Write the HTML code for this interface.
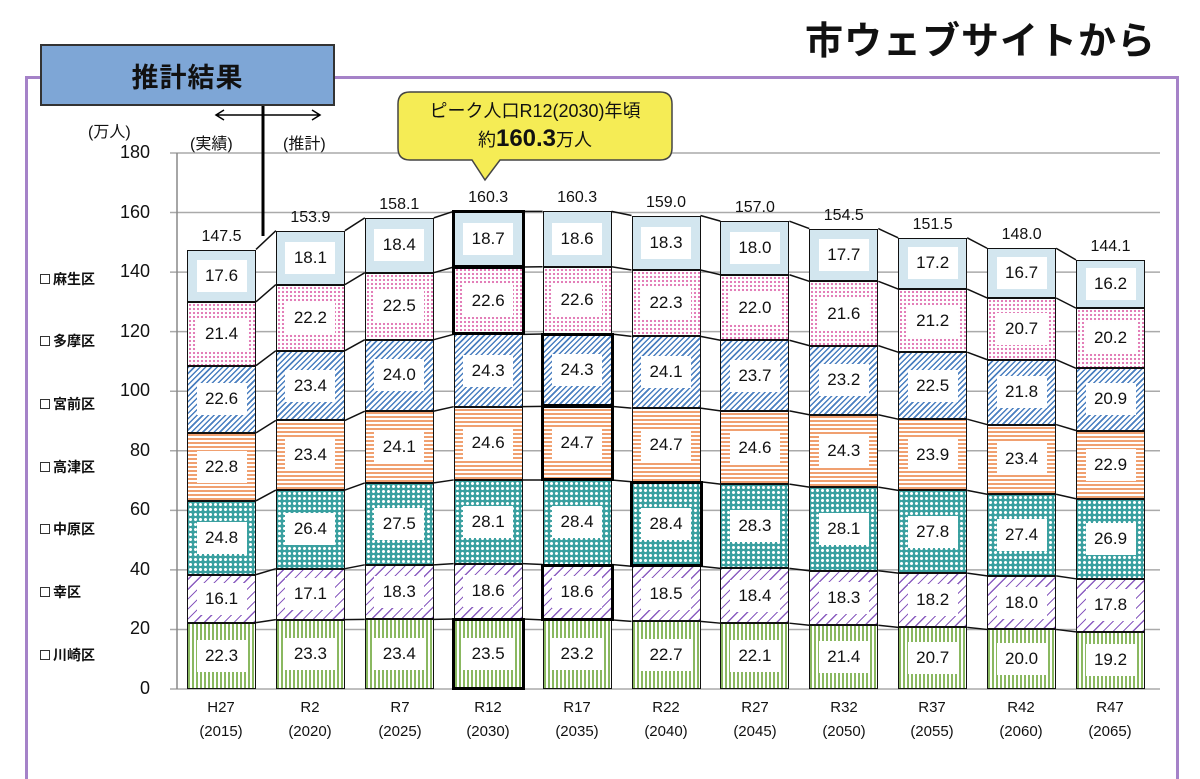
<!DOCTYPE html>
<html><head><meta charset="utf-8"><style>
body{margin:0;width:1200px;height:762px;background:#fff;position:relative;overflow:hidden;font-family:"Liberation Sans","Noto Sans CJK JP",sans-serif;color:#111}
.abs{position:absolute}
.bar{position:absolute;bottom:73px;width:69px;display:flex;flex-direction:column-reverse;z-index:2}
.bar div{box-sizing:border-box;border:1.5px solid #111;border-top-width:1px;border-bottom-width:1px;position:relative;display:flex;align-items:center;justify-content:center}
.bar span{background:#fff;width:50px;height:32px;display:flex;align-items:center;justify-content:center;font-size:17px}
.bar .t{position:absolute;margin:0;top:-24px;left:0;right:0;text-align:center;font-size:16px;border:none;display:block;line-height:20px}
.a{background:#d3e6ef}
.b{background:#fff radial-gradient(#e070b0 0.9px,transparent 1.3px) 0 0/4px 4px}
.c{background:repeating-linear-gradient(-45deg,#4a7fc0 0 1.5px,#fff 1.5px 4px)}
.d{background:repeating-linear-gradient(0deg,#f0a070 0 2px,#fff 2px 4px)}
.e{background:#3aa0a0 radial-gradient(#fff 1.3px,transparent 1.8px) 0 0/5px 5px}
.f{background:repeating-linear-gradient(-45deg,#8a5cc0 0 1.2px,#fff 1.2px 7px)}
.g{background:repeating-linear-gradient(90deg,#8ab860 0 2px,#fff 2px 4px)}
.hl::after{content:"";position:absolute;left:-3px;right:-3px;top:-2px;bottom:-2px;border:3px solid #000;z-index:3}
.yl{position:absolute;right:1050px;font-size:18px;width:60px;text-align:right}
.lg{position:absolute;left:40px;font-size:14px;font-weight:bold}
.lg i{display:inline-block;width:8px;height:8px;border:1px solid #333;margin-right:3px;vertical-align:0}
.xl{position:absolute;top:696px;width:80px;text-align:center;font-size:15px;line-height:24px}
</style></head><body>
<div class="abs" style="left:805px;top:10px;font-size:38px;font-weight:bold;letter-spacing:1px">市ウェブサイトから</div>
<div class="abs" style="left:25px;top:76px;width:1148px;height:700px;border:3px solid #a582c8;border-bottom:none"></div>
<div class="abs" style="left:40px;top:44px;width:291px;height:58px;background:#7ea6d6;border:2px solid #333;font-size:27px;font-weight:bold;display:flex;align-items:center;justify-content:center;letter-spacing:1px;z-index:3">推計結果</div>
<svg class="abs" style="left:0;top:0;z-index:1" width="1200" height="762" id="sv">
<g stroke="#aaa" stroke-width="1.5" id="grid"></g>
<line x1="177" y1="153" x2="177" y2="689" stroke="#888" stroke-width="1.5"/>
<line x1="263" y1="104" x2="263" y2="236" stroke="#000" stroke-width="3"/>
<path d="M216 115H320M224 110L216 115L224 120M312 110L320 115L312 120" stroke="#000" stroke-width="1.5" fill="none"/>
<path d="M410 92H660Q672 92 672 104V148Q672 160 660 160H500L485 180L472 160H410Q398 160 398 148V104Q398 92 410 92Z" fill="#f5ec55" stroke="#444" stroke-width="1.5"/>
<g id="conn" stroke="#111" stroke-width="1.5"></g>
</svg>
<div class="abs" style="left:398px;top:97px;width:274px;text-align:center;font-size:18px;z-index:2">ピーク人口R12(2030)年頃</div>
<div class="abs" style="left:398px;top:125px;width:274px;text-align:center;font-size:18px;z-index:2">約<b style="font-size:24px">160.3</b>万人</div>
<div class="abs" style="left:88px;top:118px;font-size:16px">(万人)</div>
<div class="abs" style="left:190px;top:130px;font-size:16px">(実績)</div>
<div class="abs" style="left:283px;top:130px;font-size:16px">(推計)</div>
<div class="yl" style="top:142px">180</div><div class="yl" style="top:202px">160</div><div class="yl" style="top:261px">140</div><div class="yl" style="top:321px">120</div><div class="yl" style="top:380px">100</div><div class="yl" style="top:440px">80</div><div class="yl" style="top:499px">60</div><div class="yl" style="top:559px">40</div><div class="yl" style="top:618px">20</div><div class="yl" style="top:678px">0</div>
<div class="lg" style="top:269px"><i></i>麻生区</div>
<div class="lg" style="top:331px"><i></i>多摩区</div>
<div class="lg" style="top:394px"><i></i>宮前区</div>
<div class="lg" style="top:457px"><i></i>高津区</div>
<div class="lg" style="top:519px"><i></i>中原区</div>
<div class="lg" style="top:582px"><i></i>幸区</div>
<div class="lg" style="top:645px"><i></i>川崎区</div>

<div class="bar"><div class="g"><span>22.3</span></div><div class="f"><span>16.1</span></div><div class="e"><span>24.8</span></div><div class="d"><span>22.8</span></div><div class="c"><span>22.6</span></div><div class="b"><span>21.4</span></div><div class="a"><span>17.6</span><p class="t">147.5</p></div></div>
<div class="bar"><div class="g"><span>23.3</span></div><div class="f"><span>17.1</span></div><div class="e"><span>26.4</span></div><div class="d"><span>23.4</span></div><div class="c"><span>23.4</span></div><div class="b"><span>22.2</span></div><div class="a"><span>18.1</span><p class="t">153.9</p></div></div>
<div class="bar"><div class="g"><span>23.4</span></div><div class="f"><span>18.3</span></div><div class="e"><span>27.5</span></div><div class="d"><span>24.1</span></div><div class="c"><span>24.0</span></div><div class="b"><span>22.5</span></div><div class="a"><span>18.4</span><p class="t">158.1</p></div></div>
<div class="bar"><div class="g hl"><span>23.5</span></div><div class="f"><span>18.6</span></div><div class="e"><span>28.1</span></div><div class="d"><span>24.6</span></div><div class="c"><span>24.3</span></div><div class="b hl"><span>22.6</span></div><div class="a hl"><span>18.7</span><p class="t">160.3</p></div></div>
<div class="bar"><div class="g"><span>23.2</span></div><div class="f hl"><span>18.6</span></div><div class="e"><span>28.4</span></div><div class="d hl"><span>24.7</span></div><div class="c hl"><span>24.3</span></div><div class="b"><span>22.6</span></div><div class="a"><span>18.6</span><p class="t">160.3</p></div></div>
<div class="bar"><div class="g"><span>22.7</span></div><div class="f"><span>18.5</span></div><div class="e hl"><span>28.4</span></div><div class="d"><span>24.7</span></div><div class="c"><span>24.1</span></div><div class="b"><span>22.3</span></div><div class="a"><span>18.3</span><p class="t">159.0</p></div></div>
<div class="bar"><div class="g"><span>22.1</span></div><div class="f"><span>18.4</span></div><div class="e"><span>28.3</span></div><div class="d"><span>24.6</span></div><div class="c"><span>23.7</span></div><div class="b"><span>22.0</span></div><div class="a"><span>18.0</span><p class="t">157.0</p></div></div>
<div class="bar"><div class="g"><span>21.4</span></div><div class="f"><span>18.3</span></div><div class="e"><span>28.1</span></div><div class="d"><span>24.3</span></div><div class="c"><span>23.2</span></div><div class="b"><span>21.6</span></div><div class="a"><span>17.7</span><p class="t">154.5</p></div></div>
<div class="bar"><div class="g"><span>20.7</span></div><div class="f"><span>18.2</span></div><div class="e"><span>27.8</span></div><div class="d"><span>23.9</span></div><div class="c"><span>22.5</span></div><div class="b"><span>21.2</span></div><div class="a"><span>17.2</span><p class="t">151.5</p></div></div>
<div class="bar"><div class="g"><span>20.0</span></div><div class="f"><span>18.0</span></div><div class="e"><span>27.4</span></div><div class="d"><span>23.4</span></div><div class="c"><span>21.8</span></div><div class="b"><span>20.7</span></div><div class="a"><span>16.7</span><p class="t">148.0</p></div></div>
<div class="bar"><div class="g"><span>19.2</span></div><div class="f"><span>17.8</span></div><div class="e"><span>26.9</span></div><div class="d"><span>22.9</span></div><div class="c"><span>20.9</span></div><div class="b"><span>20.2</span></div><div class="a"><span>16.2</span><p class="t">144.1</p></div></div>

<div class="xl" style="left:181px">H27<br>(2015)</div>
<div class="xl" style="left:270px">R2<br>(2020)</div>
<div class="xl" style="left:360px">R7<br>(2025)</div>
<div class="xl" style="left:448px">R12<br>(2030)</div>
<div class="xl" style="left:537px">R17<br>(2035)</div>
<div class="xl" style="left:626px">R22<br>(2040)</div>
<div class="xl" style="left:715px">R27<br>(2045)</div>
<div class="xl" style="left:804px">R32<br>(2050)</div>
<div class="xl" style="left:892px">R37<br>(2055)</div>
<div class="xl" style="left:981px">R42<br>(2060)</div>
<div class="xl" style="left:1070px">R47<br>(2065)</div>
<script>
var K=2.978,NS="http://www.w3.org/2000/svg";
var g=document.getElementById('grid');
for(var v=0;v<=180;v+=20){var y=689-v*K;var l=document.createElementNS(NS,'line');l.setAttribute('x1',170);l.setAttribute('x2',1160);l.setAttribute('y1',y);l.setAttribute('y2',y);g.appendChild(l);}
var bars=document.querySelectorAll('.bar'),cum=[];
bars.forEach(function(b,i){var cx=221.5+i*88.9;b.style.left=(cx-34.5)+'px';var s=0,c=[];
 b.querySelectorAll(':scope>div').forEach(function(d){var v=parseFloat(d.querySelector('span').textContent);d.style.height=(v*K)+'px';var sp=d.querySelector('span');sp.style.height=Math.min(32,v*K-14)+'px';s+=v;c.push(s);});cum.push({cx:cx,c:c});});
var cn=document.getElementById('conn');
for(var i=0;i<cum.length-1;i++){for(var k=0;k<7;k++){var l=document.createElementNS(NS,'line');l.setAttribute('x1',cum[i].cx+34.5);l.setAttribute('x2',cum[i+1].cx-34.5);l.setAttribute('y1',689-cum[i].c[k]*K);l.setAttribute('y2',689-cum[i+1].c[k]*K);cn.appendChild(l);}}
</script>
</body></html>
